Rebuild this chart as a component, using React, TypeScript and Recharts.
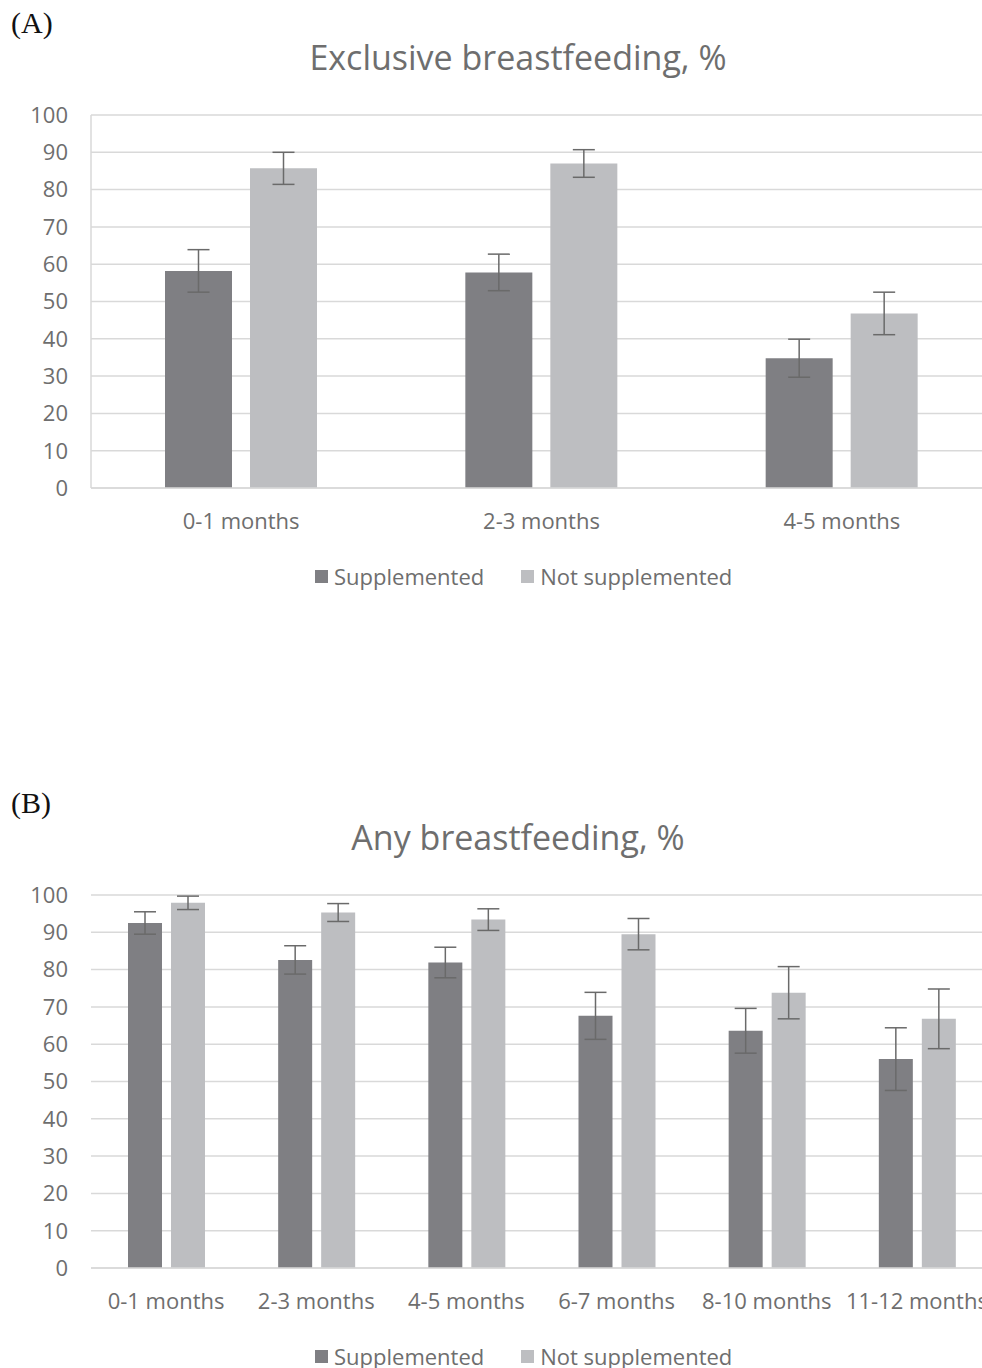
import React from "react";
import { BarChart, Bar, XAxis, YAxis, CartesianGrid, ErrorBar } from "recharts";

const categoriesA = ["0-1 months", "2-3 months", "4-5 months"];
const supplementedA = [58.2, 57.8, 34.8];
const supplementedErrA = [5.7, 4.9, 5.1];
const notSupplementedA = [85.7, 87.0, 46.8];
const notSupplementedErrA = [4.3, 3.7, 5.7];

const categoriesB = ["0-1 months", "2-3 months", "4-5 months", "6-7 months", "8-10 months", "11-12 months"];
const supplementedB = [92.5, 82.6, 81.9, 67.6, 63.6, 56.0];
const supplementedErrB = [3.0, 3.8, 4.1, 6.3, 6.0, 8.4];
const notSupplementedB = [97.9, 95.3, 93.4, 89.5, 73.8, 66.8];
const notSupplementedErrB = [1.8, 2.4, 2.9, 4.2, 7.0, 8.0];

const seriesNames = ["Supplemented", "Not supplemented"];
const yTicks = [0, 10, 20, 30, 40, 50, 60, 70, 80, 90, 100];

const DARK = "#7f7f83";
const LIGHT = "#bdbec1";
const GRID = "#d9d9d9";
const TEXT = "#6e6e6e";
const FONT = "'Open Sans', sans-serif";

function buildRows(cats: string[], s: number[], sErr: number[], n: number[], nErr: number[]) {
  return cats.map((c, i) => ({ name: c, supp: s[i], suppErr: sErr[i], notSupp: n[i], notSuppErr: nErr[i] }));
}

function LegendRow() {
  const colors = [DARK, LIGHT];
  return (
    <div style={{ position: "absolute", left: 315, top: 564, display: "flex", fontFamily: FONT, fontSize: 22, lineHeight: "24px", color: TEXT, whiteSpace: "nowrap" }}>
      {seriesNames.map((n, i) => (
        <div key={n} style={{ display: "flex", alignItems: "center", marginRight: i === 0 ? 37 : 0 }}>
          <span style={{ display: "inline-block", width: 13, height: 13, background: colors[i], marginRight: 6 }} />
          <span>{n}</span>
        </div>
      ))}
    </div>
  );
}

function Panel({ top, label, title, data, barSize, barGap, leftLine }: any) {
  return (
    <div style={{ position: "absolute", left: 0, top, width: 1000, height: 588 }}>
      <div style={{ position: "absolute", left: 11, top: 6, fontFamily: "'Liberation Serif', serif", fontSize: 30, color: "#111" }}>{label}</div>
      <div style={{ position: "absolute", left: 518, top: 34, transform: "translateX(-50%)", fontFamily: FONT, fontSize: 34, color: TEXT, whiteSpace: "nowrap", lineHeight: "46px" }}>{title}</div>
      <BarChart width={1000} height={560} data={data} margin={{ top: 115, right: 8, left: 0, bottom: 27 }} barGap={barGap} barCategoryGap={0}>
        <CartesianGrid vertical={false} stroke={GRID} strokeWidth={1.5} />
        <XAxis dataKey="name" interval={0} tickLine={false} tickSize={0} tickMargin={25} height={45}
          axisLine={{ stroke: GRID, strokeWidth: 1.5 }} tick={{ fill: TEXT, fontSize: 22, fontFamily: FONT }} />
        <YAxis width={91} domain={[0, 100]} ticks={yTicks} tickLine={false} tickSize={0} tickMargin={23}
          axisLine={leftLine ? { stroke: GRID, strokeWidth: 1.5 } : false} tick={{ fill: TEXT, fontSize: 22, fontFamily: FONT }} />
        <Bar dataKey="supp" name={seriesNames[0]} fill={DARK} barSize={barSize} isAnimationActive={false}>
          <ErrorBar dataKey="suppErr" width={11} stroke="#6a6a6a" strokeWidth={1.5} direction="y" isAnimationActive={false} />
        </Bar>
        <Bar dataKey="notSupp" name={seriesNames[1]} fill={LIGHT} barSize={barSize} isAnimationActive={false}>
          <ErrorBar dataKey="notSuppErr" width={11} stroke="#6a6a6a" strokeWidth={1.5} direction="y" isAnimationActive={false} />
        </Bar>
      </BarChart>
      <LegendRow />
    </div>
  );
}

export default function App() {
  const dataA = buildRows(categoriesA, supplementedA, supplementedErrA, notSupplementedA, notSupplementedErrA);
  const dataB = buildRows(categoriesB, supplementedB, supplementedErrB, notSupplementedB, notSupplementedErrB);
  return (
    <div style={{ position: "fixed", left: 0, top: 0, width: 982, height: 1368, overflow: "hidden", background: "#fff" }}>
      <Panel top={0} label="(A)" title="Exclusive breastfeeding, %" data={dataA} barSize={67} barGap={18} leftLine />
      <Panel top={780} label="(B)" title="Any breastfeeding, %" data={dataB} barSize={34} barGap={9} leftLine={false} />
    </div>
  );
}
